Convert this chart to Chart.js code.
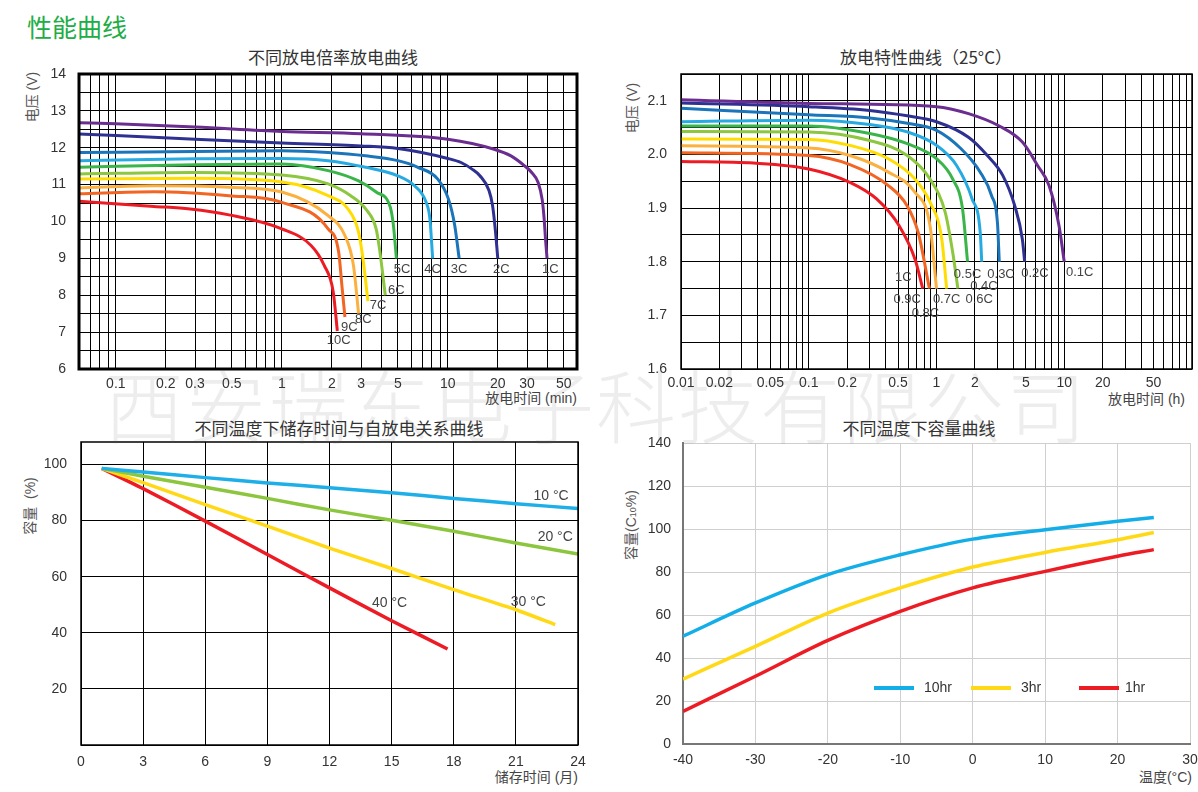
<!DOCTYPE html>
<html>
<head>
<meta charset="utf-8">
<title>性能曲线</title>
<script src="https://cdn.jsdelivr.net/npm/chart.js@4.4.1/dist/chart.umd.min.js"></script>
<style>
  body { margin:0; width:1198px; height:792px; position:relative; overflow:hidden; background:#fff;
         font-family:"Liberation Sans", Arial, "Noto Sans CJK SC", sans-serif; }
  canvas { position:absolute; }
  .txt { position:absolute; white-space:pre; color:#333; line-height:1; }
  .ttl { font-size:17px; transform:translate(-50%,-50%); font-family:"Noto Sans CJK SC", sans-serif; color:#333; }
  .ax { font-size:14px; color:#444; transform:translate(-100%,-50%); }
  .vt { font-size:14px; color:#555; transform:translate(-50%,-50%) rotate(-90deg); }
  #main { left:27px; top:14px; font-size:25px; color:#21ad45; font-family:"Noto Sans CJK SC", sans-serif; }
  #wm { position:absolute; left:104px; top:362px; font-size:80px; letter-spacing:2px; line-height:1;
        color:rgba(90,90,90,0.11); font-family:"Noto Sans CJK SC", sans-serif; font-weight:300;
        white-space:nowrap; z-index:5; pointer-events:none; }
</style>
</head>
<body>
<div id="main" class="txt">性能曲线</div>

<div class="txt ttl" style="left:333px;top:56px">不同放电倍率放电曲线</div>
<div class="txt ttl" style="left:926px;top:56px">放电特性曲线（25°C）</div>
<div class="txt ttl" style="left:339px;top:427px">不同温度下储存时间与自放电关系曲线</div>
<div class="txt ttl" style="left:919px;top:427px">不同温度下容量曲线</div>

<div class="txt vt" style="left:32px;top:97px">电压 (V)</div>
<div class="txt vt" style="left:632px;top:108px">电压 (V)</div>
<div class="txt vt" style="left:30px;top:506px">容量  (%)</div>
<div class="txt vt" style="left:631px;top:525px">容量(C<span style="font-size:9px">10</span>%)</div>

<div class="txt ax" style="left:577px;top:398px">放电时间 (min)</div>
<div class="txt ax" style="left:1185px;top:399px">放电时间 (h)</div>
<div class="txt ax" style="left:578px;top:777px">储存时间 (月)</div>
<div class="txt ax" style="left:1192px;top:777px">温度(°C)</div>

<canvas id="rateChart" width="590" height="340" style="left:0;top:64px"></canvas>
<canvas id="dischargeChart" width="598" height="340" style="left:600px;top:64px"></canvas>
<canvas id="storageChart" width="590" height="360" style="left:0;top:432px"></canvas>
<canvas id="tempChart" width="610" height="360" style="left:600px;top:432px"></canvas>

<div id="wm">西安瑞东电子科技有限公司</div>

<script>
// ---------- DATA ----------

// top left: discharge at different rates, [time (min), voltage (V)]
var tlRates = ['1C', '2C', '3C', '4C', '5C', '6C', '7C', '8C', '9C', '10C'];
var tl1C = [[0.06,12.68],[0.1,12.65],[0.3,12.56],[1,12.44],[3,12.38],[10,12.23],[19,11.96],[24,11.78],[29,11.51],[32,11.33],[35,11.06],[37,10.6],[38,10.1],[38.8,9.5],[39.6,9.0]];
var tl2C = [[0.06,12.37],[0.1,12.33],[0.3,12.23],[1,12.13],[3,12.05],[5,11.98],[10,11.71],[12,11.6],[14,11.42],[15.6,11.24],[17.7,10.84],[18.6,10.43],[19.3,9.8],[20,9.0]];
var tl3C = [[0.06,11.87],[0.3,11.9],[1,11.92],[1.9,11.87],[3.2,11.78],[5,11.65],[6.6,11.47],[8.7,11.15],[10.1,10.6],[11,9.9],[11.7,9.0]];
var tl4C = [[0.06,11.65],[0.3,11.7],[1,11.71],[1.9,11.65],[3.2,11.47],[5,11.24],[6.3,10.97],[7.4,10.52],[7.8,10.07],[8.1,9.0]];
var tl5C = [[0.06,11.47],[0.3,11.54],[1,11.56],[1.9,11.38],[2.9,11.1],[3.7,10.8],[4.5,10.39],[4.7,9.9],[4.9,9.0]];
var tl6C = [[0.06,11.29],[0.3,11.33],[1,11.26],[1.9,11.02],[2.6,10.7],[3.2,10.34],[3.7,9.8],[3.9,9.17],[4.2,8.0]];
var tl7C = [[0.06,11.15],[0.3,11.17],[1,11.07],[1.9,10.7],[2.5,10.34],[2.9,9.71],[3.1,8.9],[3.3,7.84]];
var tl8C = [[0.06,10.91],[0.17,10.97],[0.48,10.93],[1,10.8],[1.9,10.16],[2.4,9.62],[2.7,8.81],[2.9,7.5]];
var tl9C = [[0.06,10.75],[0.17,10.81],[0.48,10.7],[1,10.52],[1.9,9.8],[2.2,9.17],[2.3,8.27],[2.4,7.41]];
var tl10C = [[0.06,10.55],[0.17,10.41],[0.28,10.34],[0.48,10.18],[1,9.8],[1.5,9.35],[1.8,8.81],[2.04,8.09],[2.16,7.03]];
var tlSeries = [tl1C, tl2C, tl3C, tl4C, tl5C, tl6C, tl7C, tl8C, tl9C, tl10C];
var tlLabelAt = [[41.5,8.7],[21,8.7],[11.7,8.7],[8.1,8.7],[5.3,8.7],[4.9,8.12],[3.8,7.73],[3.1,7.35],[2.55,7.13],[2.2,6.78]];
var tlTickLabels = [0.1, 0.2, 0.3, 0.5, 1, 2, 3, 5, 10, 20, 30, 50];

// top right: discharge characteristic at 25°C, [time (h), cell voltage (V)]
var trRates = ['0.1C', '0.2C', '0.3C', '0.4C', '0.5C', '0.6C', '0.7C', '0.8C', '0.9C', '1C'];
var tr01C = [[0.01,2.102],[0.1,2.095],[1,2.089],[1.78,2.076],[3.1,2.053],[4.7,2.023],[6.2,1.979],[7.6,1.942],[9.1,1.867],[10,1.8]];
var tr02C = [[0.01,2.096],[0.1,2.089],[0.3,2.082],[0.59,2.072],[1,2.061],[1.78,2.032],[2.5,1.998],[3.3,1.961],[4.1,1.904],[4.7,1.842],[4.9,1.8]];
var tr03C = [[0.01,2.086],[0.1,2.074],[0.3,2.068],[0.59,2.058],[1,2.045],[1.55,2.011],[2.2,1.967],[2.7,1.923],[3.0,1.873],[3.1,1.8]];
var tr04C = [[0.01,2.061],[0.1,2.064],[0.3,2.056],[0.59,2.042],[1,2.017],[1.44,1.979],[1.9,1.917],[2.2,1.854],[2.26,1.8]];
var tr05C = [[0.01,2.053],[0.1,2.053],[0.3,2.039],[0.59,2.02],[1,1.992],[1.34,1.954],[1.6,1.898],[1.75,1.8]];
var tr06C = [[0.01,2.043],[0.1,2.042],[0.3,2.026],[0.59,1.998],[0.89,1.954],[1.17,1.892],[1.34,1.817],[1.47,1.75]];
var tr07C = [[0.01,2.029],[0.1,2.028],[0.21,2.017],[0.42,1.992],[0.68,1.954],[0.89,1.911],[1.1,1.842],[1.2,1.75]];
var tr08C = [[0.01,2.016],[0.1,2.012],[0.21,1.998],[0.42,1.967],[0.68,1.929],[0.89,1.867],[1.0,1.75]];
var tr09C = [[0.01,2.003],[0.1,1.998],[0.21,1.981],[0.42,1.942],[0.59,1.904],[0.72,1.854],[0.88,1.75]];
var tr10C = [[0.01,1.987],[0.037,1.984],[0.1,1.973],[0.21,1.948],[0.34,1.917],[0.51,1.867],[0.68,1.804],[0.78,1.75]];
var trSeries = [tr01C, tr02C, tr03C, tr04C, tr05C, tr06C, tr07C, tr08C, tr09C, tr10C];
var trLabelAt = [[13.2,1.78],[5.9,1.778],[3.2,1.776],[2.35,1.754],[1.75,1.776],[2.16,1.729],[1.2,1.729],[0.82,1.703],[0.59,1.729],[0.55,1.77]];
var trTickLabels = [0.01, 0.02, 0.05, 0.1, 0.2, 0.5, 1, 2, 5, 10, 20, 50];

// bottom left: self discharge vs storage, [months, capacity %]
var blTemps = ['10 °C', '20 °C', '30 °C', '40 °C'];
var bl10 = [[1,98.6],[3,97.3],[6,95.3],[9,93.4],[12,91.7],[15,89.9],[18,87.9],[21,86],[24,84.3]];
var bl20 = [[1,98.6],[3,95.8],[6,91.9],[9,87.9],[12,83.8],[15,80.1],[18,76.2],[21,72],[24,68.1]];
var bl30 = [[1,98.6],[3,93.5],[6,85.7],[9,78],[12,70.2],[15,62.9],[18,55.4],[21,48.2],[22.9,42.9]];
var bl40 = [[1,98.6],[3,91.4],[6,79.8],[9,67.9],[12,56],[15,44.3],[17.7,34.2]];
var blSeries = [bl10, bl20, bl30, bl40];
var blLabelAt = [[22.7,88.7],[22.9,74],[21.6,51],[14.9,50.5]];

// bottom right: capacity vs temperature
var brTemps = [-40, -30, -20, -10, 0, 10, 20, 25];
var br10hr = [50.1, 65.6, 78.8, 88, 95.3, 99.7, 103.6, 105.4];
var br3hr = [30.2, 45.4, 60.9, 72.6, 82.3, 89.1, 95, 98.4];
var br1hr = [15.2, 31.5, 48.2, 61.7, 72.6, 80.3, 87.3, 90.4];
var brNames = ['10hr', '3hr', '1hr'];

// colours
var rateColors = ['#6b2d90', '#2e3192', '#1b75bb', '#27aae1', '#39b54a', '#8dc63f', '#ffdd00', '#fbb040', '#f26522', '#ed1c24'];
var tempColors = ['#1eaee8', '#8cc63f', '#ffd915', '#ed1c24'];
var hrColors = ['#13aee8', '#ffd915', '#ed1c24'];

Chart.defaults.font.family = "'Liberation Sans', Arial, sans-serif";
Chart.defaults.animation = false;

// ---------- HELPERS ----------
function logGrid(min, max) {
  var out = [];
  for (var e = -3; e <= 3; e++) {
    for (var m = 1; m < 10; m++) {
      var v = +(m * Math.pow(10, e)).toPrecision(3);
      if (v >= min - 1e-9 && v <= max + 1e-9) out.push(v);
    }
  }
  return out;
}

function steps(min, max, step) {
  var out = [];
  for (var v = min; v <= max + 1e-9; v += step) out.push(+v.toFixed(4));
  return out;
}

function toXY(arr) {
  return arr.map(function (p) { return {x: p[0], y: p[1]}; });
}

// fixed-size axis so the plot box lands where the original one is
function axis(o) {
  return {
    type: o.type || 'linear',
    min: o.min,
    max: o.max,
    afterBuildTicks: function (s) { s.ticks = o.ticks.map(function (v) { return {value: v}; }); },
    afterFit: function (s) {
      if (s.isHorizontal()) s.height = o.size; else s.width = o.size;
      s.paddingTop = 0; s.paddingBottom = 0; s.paddingLeft = 0; s.paddingRight = 0;
    },
    grid: {color: o.gridColor || '#000', lineWidth: 1, drawTicks: false},
    border: o.border || {display: false},
    ticks: {autoSkip: false, maxRotation: 0, padding: o.pad, color: '#333', font: {size: 14}, callback: o.label}
  };
}

function framePlugin(width, color) {
  return {
    id: 'frame',
    afterDraw: function (chart) {
      var a = chart.chartArea, c = chart.ctx;
      c.save();
      c.lineWidth = width;
      c.strokeStyle = color;
      c.strokeRect(a.left, a.top, a.right - a.left, a.bottom - a.top);
      c.restore();
    }
  };
}

// text next to each curve, placed in data units
function labelPlugin(texts, at, size) {
  return {
    id: 'curveLabels',
    afterDatasetsDraw: function (chart) {
      var c = chart.ctx, x = chart.scales.x, y = chart.scales.y;
      c.save();
      c.font = size + "px 'Liberation Sans', Arial, sans-serif";
      c.fillStyle = '#444';
      c.textAlign = 'center';
      c.textBaseline = 'middle';
      texts.forEach(function (t, i) {
        c.fillText(t, x.getPixelForValue(at[i][0]), y.getPixelForValue(at[i][1]));
      });
      c.restore();
    }
  };
}

function lineSets(names, series, colors, width) {
  return series.map(function (s, i) {
    return {label: names[i], data: toXY(s), borderColor: colors[i], borderWidth: width,
            pointRadius: 0, fill: false, cubicInterpolationMode: 'monotone'};
  });
}

var baseOpts = {responsive: false, devicePixelRatio: 1,
                plugins: {legend: {display: false}, tooltip: {enabled: false}}};

// ---------- TOP LEFT ----------
new Chart('rateChart', {
  type: 'line',
  data: {datasets: lineSets(tlRates, tlSeries, rateColors, 3)},
  options: Object.assign({}, baseOpts, {
    layout: {padding: {top: 10, right: 13, left: 0, bottom: 0}},
    scales: {
      x: axis({type: 'logarithmic', min: 0.06, max: 60, ticks: logGrid(0.06, 60), size: 35, pad: 7,
               label: function (v) { return tlTickLabels.indexOf(v) >= 0 ? String(v) : ''; }}),
      y: axis({min: 6, max: 14, ticks: steps(6, 14, 0.5), size: 79, pad: 13,
               label: function (v) { return Number.isInteger(v) ? String(v) : ''; }})
    }
  }),
  plugins: [labelPlugin(tlRates, tlLabelAt, 13), framePlugin(3, '#000')]
});

// ---------- TOP RIGHT ----------
new Chart('dischargeChart', {
  type: 'line',
  data: {datasets: lineSets(trRates, trSeries, rateColors, 3)},
  options: Object.assign({}, baseOpts, {
    layout: {padding: {top: 10, right: 6, left: 0, bottom: 0}},
    scales: {
      x: axis({type: 'logarithmic', min: 0.01, max: 100, ticks: logGrid(0.01, 100), size: 35, pad: 6,
               label: function (v) { return trTickLabels.indexOf(v) >= 0 ? String(v) : ''; }}),
      y: axis({min: 1.6, max: 2.15, ticks: steps(1.6, 2.15, 0.05), size: 81, pad: 14,
               label: function (v) {
                 return (Math.abs(v * 10 - Math.round(v * 10)) < 1e-6 && v < 2.12) ? v.toFixed(1) : '';
               }})
    }
  }),
  plugins: [labelPlugin(trRates, trLabelAt, 13), framePlugin(1.5, '#000')]
});

// ---------- BOTTOM LEFT ----------
new Chart('storageChart', {
  type: 'line',
  data: {datasets: lineSets(blTemps, blSeries, tempColors, 3.5).map(function (d) { d.cubicInterpolationMode = 'default'; d.tension = 0.2; return d; })},
  options: Object.assign({}, baseOpts, {
    layout: {padding: {top: 10, right: 12, left: 0, bottom: 0}},
    scales: {
      x: axis({min: 0, max: 24, ticks: steps(0, 24, 3), size: 47, pad: 9,
               label: function (v) { return String(v); }}),
      y: axis({min: 0, max: 108, ticks: [0, 20, 40, 60, 80, 100], size: 81, pad: 14,
               label: function (v) { return v > 0 ? String(v) : ''; }})
    }
  }),
  plugins: [labelPlugin(blTemps, blLabelAt, 14), framePlugin(1.5, '#000')]
});

// ---------- BOTTOM RIGHT ----------
var brLegend = {
  id: 'hrLegend',
  afterDatasetsDraw: function (chart) {
    var c = chart.ctx, xs = [274, 371, 479], len = 40, y = 256;
    c.save();
    c.font = "14px 'Liberation Sans', Arial, sans-serif";
    c.textBaseline = 'middle';
    chart.data.datasets.forEach(function (d, i) {
      c.strokeStyle = d.borderColor;
      c.lineWidth = 4;
      c.beginPath();
      c.moveTo(xs[i], y);
      c.lineTo(xs[i] + len, y);
      c.stroke();
      c.fillStyle = '#333';
      c.fillText(d.label, xs[i] + len + (i === 2 ? 6 : 10), y);
    });
    c.restore();
  }
};

new Chart('tempChart', {
  type: 'line',
  data: {
    labels: brTemps,
    datasets: [br10hr, br3hr, br1hr].map(function (s, i) {
      return {label: brNames[i], data: s.map(function (v, j) { return {x: brTemps[j], y: v}; }),
              borderColor: hrColors[i], borderWidth: 3.5, pointRadius: 0, fill: false,
              cubicInterpolationMode: 'monotone'};
    })
  },
  options: Object.assign({}, baseOpts, {
    layout: {padding: {top: 11, right: 20, left: 0, bottom: 0}},
    scales: {
      x: axis({min: -40, max: 30, ticks: steps(-40, 30, 10), size: 48, pad: 8, gridColor: '#cfcfcf',
               border: {display: true, color: '#777', width: 2},
               label: function (v) { return String(v); }}),
      y: axis({min: 0, max: 140, ticks: steps(0, 140, 20), size: 83, pad: 12, gridColor: '#cfcfcf',
               border: {display: true, color: '#777', width: 2},
               label: function (v) { return String(v); }})
    }
  }),
  plugins: [brLegend]
});
</script>
</body>
</html>
